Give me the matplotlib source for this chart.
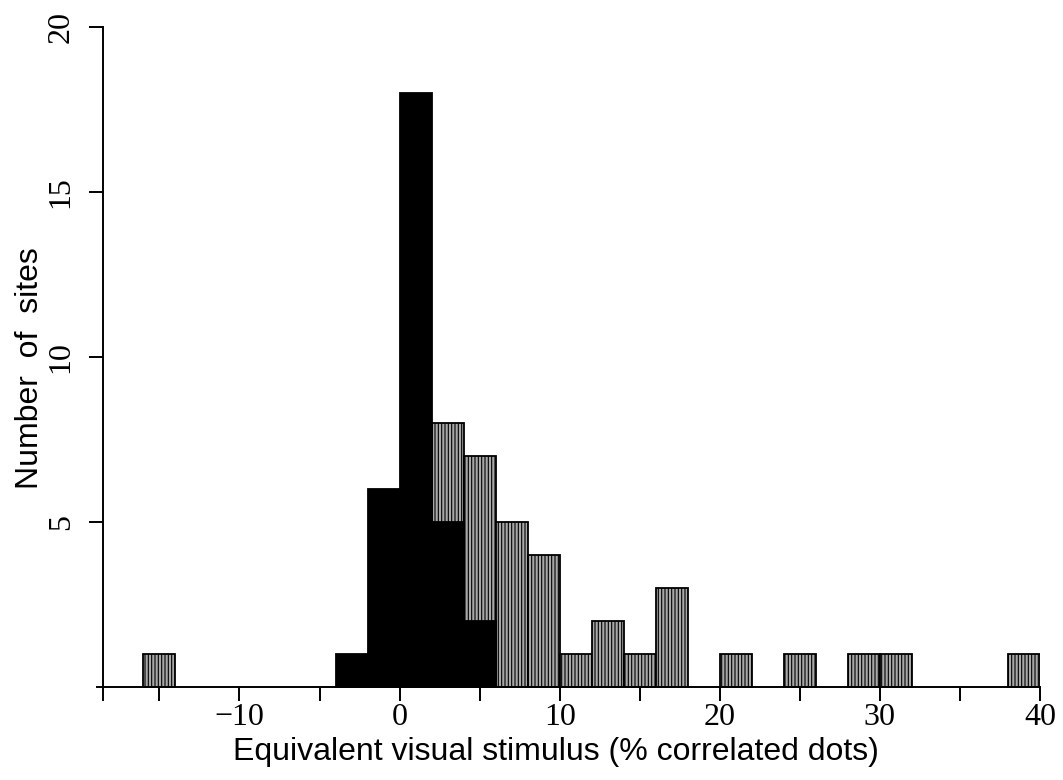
import matplotlib
matplotlib.use("Agg")
import matplotlib.pyplot as plt

# Data: histogram bins (width 2), left edges
all_left = [-16, 2, 4, 6, 8, 10, 12, 14, 16, 20, 24, 28, 30, 38]
all_counts = [1, 8, 7, 5, 4, 1, 2, 1, 3, 1, 1, 1, 1, 1]
black_left = [-4, -2, 0, 2, 4]
black_counts = [1, 6, 18, 5, 2]
bin_width = 2

x_ticks_major = [-10, 0, 10, 20, 30, 40]
x_ticks_minor = [-15, -5, 5, 15, 25, 35]
y_ticks = [5, 10, 15, 20]

plt.rcParams['hatch.linewidth'] = 0.8

fig = plt.figure(figsize=(10.63, 7.8), dpi=100)
ax = fig.add_axes([97/1063, 1 - 700/780, 943/1063, 673/780])

ax.bar(all_left, all_counts, width=bin_width, align='edge',
       facecolor='#a8a8a8', edgecolor='black', hatch='|||||', linewidth=1.3)
ax.bar(black_left, black_counts, width=bin_width, align='edge',
       facecolor='black', edgecolor='black', linewidth=1.3)

ax.set_xlim(-18.9, 40)
ax.set_ylim(-0.4, 20)

for s in ['top', 'right']:
    ax.spines[s].set_visible(False)
ax.spines['left'].set_position(('data', -18.5))
ax.spines['bottom'].set_position(('data', 0))
ax.spines['left'].set_linewidth(1.4)
ax.spines['bottom'].set_linewidth(1.4)

serif = ['Liberation Serif', 'DejaVu Serif']
ax.set_xticks(x_ticks_major)
ax.set_xticks(x_ticks_minor, minor=True)
ax.set_xticklabels(['\u221210', '0', '10', '20', '30', '40'], fontfamily=serif, fontsize=23)
ax.tick_params(axis='x', which='both', direction='out', length=10, width=1.4, pad=2)

ax.set_yticks(y_ticks)
ax.set_yticklabels([str(v) for v in y_ticks], fontfamily=serif, fontsize=23,
                   rotation=90, va='center')
ax.tick_params(axis='y', direction='out', length=10, width=1.4, pad=10)

fig.text(556/1063, 1 - 752/780, 'Equivalent visual stimulus (% correlated dots)',
         fontfamily=['Liberation Sans', 'DejaVu Sans'], fontsize=23,
         ha='center', va='center')
fig.text(30/1063, 1 - 368/780, 'Number  of  sites',
         fontfamily=['Liberation Sans', 'DejaVu Sans'], fontsize=23,
         ha='center', va='center', rotation=90)

fig.savefig('out.png', dpi=100)
